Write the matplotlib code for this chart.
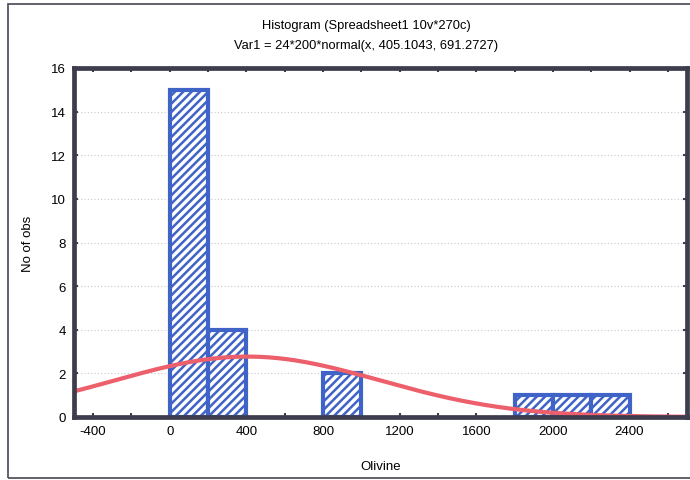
import numpy as np
import matplotlib
matplotlib.use("Agg")
import matplotlib.pyplot as plt
from matplotlib.patches import Rectangle

plt.rcParams['font.family'] = ['Liberation Sans', 'DejaVu Sans']
plt.rcParams['hatch.linewidth'] = 1.8
plt.rcParams['axes.unicode_minus'] = False

# ---- histogram bins (left edge, width) and counts ----
bin_left = [0, 200, 800, 1800, 2000, 2200]
bin_width = 200
counts = [15, 4, 2, 1, 1, 1]

# ---- fitted normal from the title: 24*200*normal(x, 405.1043, 691.2727) ----
n_obs = 24
fit_mean = 405.1043
fit_sd = 691.2727

x_ticks = [-400, 0, 400, 800, 1200, 1600, 2000, 2400]
y_ticks = [0, 2, 4, 6, 8, 10, 12, 14, 16]

blue = '#3f63c6'
red = '#ec5f6b'
frame = '#3d3d4d'

fig = plt.figure(figsize=(6.9, 4.81), dpi=100)
ax = fig.add_axes([74 / 690, 1 - 418 / 481, (687 - 74) / 690, (418 - 69) / 481])

# outer frame
fig.patches.append(Rectangle((8 / 690, 2 / 481), 1.2, 474 / 481, transform=fig.transFigure,
                             fill=False, edgecolor='#555560', linewidth=1.3))

ax.bar(bin_left, counts, width=bin_width, align='edge', facecolor='white',
       edgecolor=blue, hatch='////', linewidth=3, zorder=3)

xs = np.linspace(-500, 2700, 400)
pdf = np.exp(-0.5 * ((xs - fit_mean) / fit_sd) ** 2) / (fit_sd * np.sqrt(2 * np.pi))
ax.plot(xs, n_obs * bin_width * pdf, color=red, linewidth=3, zorder=4)

ax.set_xlim(-500, 2700)
ax.set_ylim(0, 16)
ax.set_xticks(x_ticks)
ax.set_xticks(np.arange(-400, 2700, 200), minor=True)
ax.set_yticks(y_ticks)
ax.tick_params(axis='both', which='both', direction='in', length=3, width=1.5,
               color=frame, labelsize=9.5, top=True, right=True, pad=6)
ax.yaxis.grid(True, linestyle=(0, (1, 2)), color='#c8c8c8', linewidth=0.8)
ax.set_axisbelow(True)
for sp in ax.spines.values():
    sp.set_linewidth(3.4)
    sp.set_color(frame)
    sp.set_zorder(5)

ax.set_xlabel('Olivine', fontsize=9.5, labelpad=16)
ax.set_ylabel('No of obs', fontsize=9.5, labelpad=12)

fig.text(366 / 690, 1 - 26 / 481, 'Histogram (Spreadsheet1 10v*270c)', ha='center', va='center', fontsize=9.3)
fig.text(366 / 690, 1 - 46 / 481, 'Var1 = 24*200*normal(x, 405.1043, 691.2727)', ha='center', va='center', fontsize=9.3)

fig.savefig('out.png', dpi=100)
